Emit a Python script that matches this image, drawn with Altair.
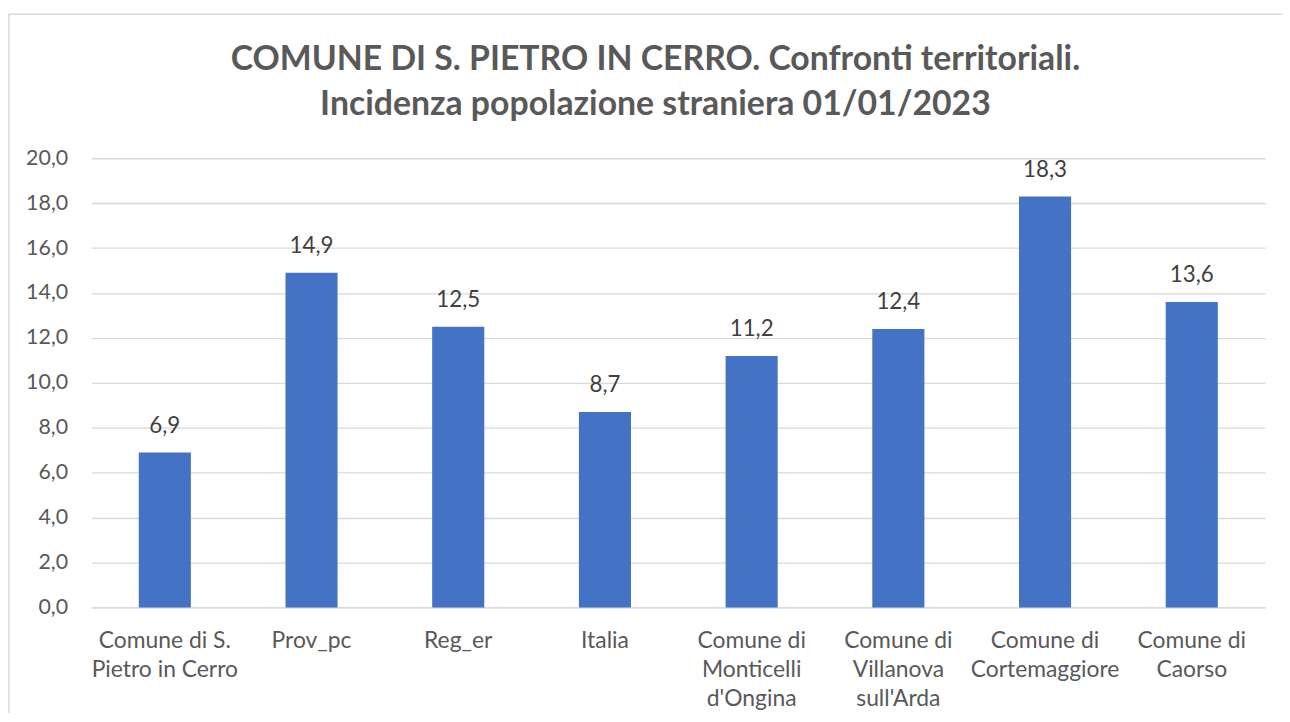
import altair as alt
import pandas as pd

categories = [
    "Comune di S.|Pietro in Cerro",
    "Prov_pc",
    "Reg_er",
    "Italia",
    "Comune di|Monticelli|d'Ongina",
    "Comune di|Villanova|sull'Arda",
    "Comune di|Cortemaggiore",
    "Comune di|Caorso",
]
values = [6.9, 14.9, 12.5, 8.7, 11.2, 12.4, 18.3, 13.6]
y_ticks = [0, 2, 4, 6, 8, 10, 12, 14, 16, 18, 20]
title_lines = [
    "COMUNE DI S. PIETRO IN CERRO. Confronti territoriali.",
    "Incidenza popolazione straniera 01/01/2023",
]

df = pd.DataFrame({"cat": categories, "val": values})
df["lab"] = df["val"].map(lambda v: f"{v:.1f}".replace(".", ","))

W, H = 1181, 452
FONT = "Lato"

x_enc = alt.X(
    "cat:N",
    sort=None,
    scale=alt.Scale(paddingInner=0.645, paddingOuter=0.3225),
    axis=alt.Axis(
        title=None,
        labelAngle=0,
        labelExpr="split(datum.label, '|')",
        labelFont=FONT,
        labelFontSize=23,
        labelColor="#595959",
        labelLineHeight=29.5,
        labelPadding=22,
        labelLimit=300,
        ticks=False,
        domainColor="#D9D9D9",
        domainWidth=1.3,
    ),
)
y_enc = alt.Y(
    "val:Q",
    scale=alt.Scale(domain=[0, 20], nice=False, zero=True),
    axis=alt.Axis(
        title=None,
        values=y_ticks,
        labelExpr="replace(format(datum.value, '.1f'), '.', ',')",
        labelFont=FONT,
        labelFontSize=21.5,
        labelColor="#595959",
        labelPadding=24,
        ticks=False,
        domain=False,
        gridColor="#D9D9D9",
        gridWidth=1.3,
    ),
)

base = alt.Chart(df)
bars = base.mark_bar(color="#4472C4").encode(x=x_enc, y=y_enc)
labels = base.mark_text(
    font=FONT, fontSize=22.5, color="#404040", baseline="bottom", dy=-15
).encode(x=x_enc, y=y_enc, text="lab:N")

border = alt.Chart(alt.Data(values=[{"a": 1}])).mark_rect(
    fill=None, stroke="#D9D9D9", strokeWidth=1.5
).encode(
    x=alt.value(-83), x2=alt.value(W + 60), y=alt.value(-145), y2=alt.value(H + 130)
)

chart = alt.layer(border, bars, labels).properties(
    width=W,
    height=H,
    title=alt.TitleParams(
        text=title_lines,
        font=FONT,
        fontSize=34,
        fontWeight="bold",
        color="#595959",
        anchor="middle",
        lineHeight=45,
        dx=-23,
        dy=109,
        offset=0,
    ),
    autosize=alt.AutoSizeParams(type="none"),
    padding={"left": 84, "top": 149, "right": 17, "bottom": 104},
).configure_view(stroke=None)

chart.save("out.html", embed_options={"renderer": "svg", "actions": False})
